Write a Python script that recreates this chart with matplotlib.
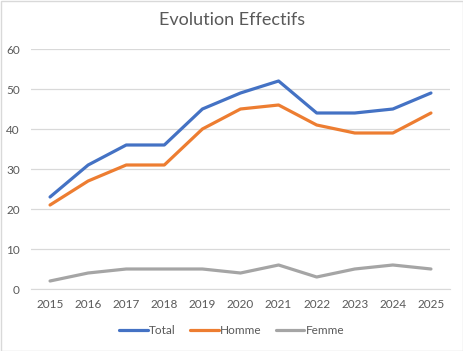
import matplotlib.pyplot as plt
from matplotlib.patches import Rectangle

# data
years = ["2015", "2016", "2017", "2018", "2019", "2020", "2021", "2022", "2023", "2024", "2025"]
total = [23, 31, 36, 36, 45, 49, 52, 44, 44, 45, 49]
homme = [21, 27, 31, 31, 40, 45, 46, 41, 39, 39, 44]
femme = [2, 4, 5, 5, 5, 4, 6, 3, 5, 6, 5]

plt.rcParams['font.family'] = ['Lato', 'DejaVu Sans']

fig = plt.figure(figsize=(4.64, 3.51), dpi=100)
ax = fig.add_axes([31/464, 1-289/351, 419/464, 240/351])

x = range(len(years))
ax.plot(x, total, color="#4472C4", lw=2.3, label="Total", solid_capstyle="round")
ax.plot(x, homme, color="#ED7D31", lw=2.3, label="Homme", solid_capstyle="round")
ax.plot(x, femme, color="#A5A5A5", lw=2.3, label="Femme", solid_capstyle="round")

ax.set_xlim(-0.5, len(years) - 0.5)
ax.set_ylim(0, 60)
ax.set_yticks(range(0, 61, 10))
ax.set_xticks(list(x))
ax.set_xticklabels(years)
ax.grid(axis="y", color="#D9D9D9", lw=0.9)
ax.set_axisbelow(True)
for s in ["top", "right", "left"]:
    ax.spines[s].set_visible(False)
ax.spines["bottom"].set_color("#D9D9D9")
ax.tick_params(length=0, colors="#595959", labelsize=8.5)
ax.tick_params(axis="x", pad=7)
ax.tick_params(axis="y", pad=8)

fig.text(0.5, 1 - 20/351, "Evolution Effectifs", ha="center", va="center",
         fontsize=13, color="#595959")

fig.legend(loc="center", bbox_to_anchor=(0.5, 1 - 331/351), ncol=3, frameon=False,
           fontsize=8.5, labelcolor="#595959", handlelength=2.4, handletextpad=0.15,
           columnspacing=1.2)

fig.patches.append(Rectangle((0.5/464, 0.5/351), 1 - 1.5/464, 1 - 1.5/351,
                             transform=fig.transFigure, fill=False,
                             edgecolor="#D9D9D9", lw=1))

fig.savefig("out.png", dpi=100)
